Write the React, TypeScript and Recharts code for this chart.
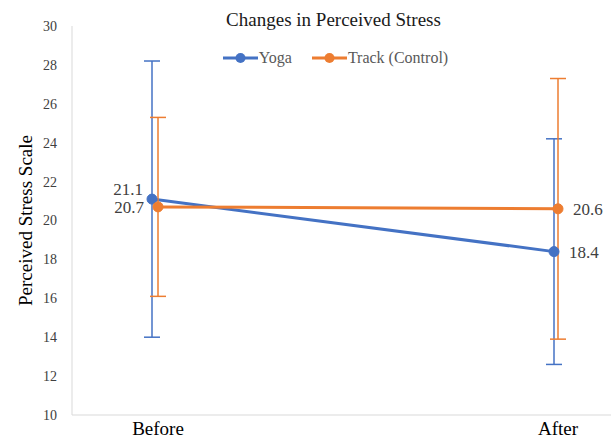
import { LineChart, Line, XAxis, YAxis, ErrorBar, LabelList, Legend } from 'recharts';

const categories = ['Before', 'After'];
const yogaMeans = [21.1, 18.4];
const yogaErrors = [7.1, 5.8];
const trackMeans = [20.7, 20.6];
const trackErrors = [4.6, 6.7];
const yTicks = [10, 12, 14, 16, 18, 20, 22, 24, 26, 28, 30];

const BLUE = '#4472C4';
const ORANGE = '#ED7D31';
const FONT = '"Liberation Serif", "Times New Roman", serif';

const data = categories.map((cat, i) => ({
  cat,
  yoga: yogaMeans[i],
  yogaErr: yogaErrors[i],
  track: trackMeans[i],
  trackErr: trackErrors[i],
}));

// Excel puts the "Before" labels to the left and the "After" labels to the right
function makeLabel(leftGap: number, upShift: number) {
  return (props: any) => {
    const { x, y, value, index } = props;
    const left = index === 0;
    return (
      <text
        x={left ? x - leftGap : x + 15}
        y={left ? y - upShift : y}
        dy="0.35em"
        textAnchor={left ? 'end' : 'start'}
        style={{ fontFamily: FONT, fontSize: 17, fill: '#404040' }}
      >
        {value}
      </text>
    );
  };
}

function LegendContent() {
  const items = [
    { name: 'Yoga', color: BLUE },
    { name: 'Track (Control)', color: ORANGE },
  ];
  return (
    <div style={{ display: 'flex', justifyContent: 'center', gap: 20, fontFamily: FONT, fontSize: 16, color: '#595959', lineHeight: '18px' }}>
      {items.map((it) => (
        <div key={it.name} style={{ display: 'flex', alignItems: 'center', gap: 1 }}>
          <svg width={35} height={12}>
            <line x1={0} y1={6} x2={35} y2={6} stroke={it.color} strokeWidth={3} />
            <circle cx={17.5} cy={6} r={5} fill={it.color} />
          </svg>
          <span>{it.name}</span>
        </div>
      ))}
    </div>
  );
}

export default function App() {
  return (
    <div style={{ position: 'absolute', left: 0, top: 0, width: 611, height: 438, background: '#fff', fontFamily: FONT }}>
      <div
        style={{
          position: 'absolute',
          top: 9,
          left: 56,
          width: 555,
          textAlign: 'center',
          fontFamily: FONT,
          fontSize: 19,
          lineHeight: '22px',
          color: '#1a1a1a',
        }}
      >
        Changes in Perceived Stress
      </div>
      <LineChart width={611} height={438} data={data} margin={{ top: 26, right: 0, bottom: 0, left: 0 }}>
        <XAxis
          xAxisId="yoga"
          dataKey="cat"
          hide
          padding={{ left: 80, right: 57 }}
        />
        <XAxis
          xAxisId="track"
          dataKey="cat"
          padding={{ left: 86, right: 53 }}
          height={23}
          axisLine={{ stroke: '#D9D9D9' }}
          tickLine={false}
          tickSize={0}
          tickMargin={7}
          tick={{ fontSize: 19, fill: '#000', style: { fontFamily: FONT } }}
        />
        <YAxis
          domain={[10, 30]}
          ticks={yTicks}
          width={72}
          axisLine={{ stroke: '#D9D9D9' }}
          tickLine={false}
          tickSize={0}
          tickMargin={15}
          tick={{ fontSize: 14, fill: '#404040', style: { fontFamily: FONT } }}
          label={{
            value: 'Perceived Stress Scale',
            angle: -90,
            position: 'insideLeft',
            dx: 20,
            style: { textAnchor: 'middle', fontFamily: FONT, fontSize: 19, fill: '#000' },
          }}
        />
        <Legend
          layout="horizontal"
          verticalAlign="middle"
          align="center"
          wrapperStyle={{ top: 49, left: 60, width: 551 }}
          content={<LegendContent />}
        />
        <Line
          xAxisId="yoga"
          dataKey="yoga"
          stroke={BLUE}
          strokeWidth={3}
          dot={{ r: 5, fill: BLUE, stroke: BLUE, strokeWidth: 1 }}
          isAnimationActive={false}
        >
          <ErrorBar dataKey="yogaErr" stroke={BLUE} strokeWidth={1.5} width={8} direction="y" />
          <LabelList dataKey="yoga" content={makeLabel(9, 10)} />
        </Line>
        <Line
          xAxisId="track"
          dataKey="track"
          stroke={ORANGE}
          strokeWidth={3}
          dot={{ r: 5, fill: ORANGE, stroke: ORANGE, strokeWidth: 1 }}
          isAnimationActive={false}
        >
          <ErrorBar dataKey="trackErr" stroke={ORANGE} strokeWidth={1.5} width={8} direction="y" />
          <LabelList dataKey="track" content={makeLabel(14, 0)} />
        </Line>
      </LineChart>
    </div>
  );
}
